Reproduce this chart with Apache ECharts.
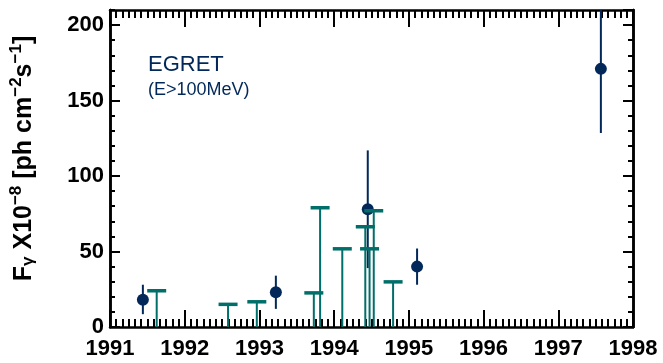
<!DOCTYPE html>
<html>
<head>
<meta charset="utf-8">
<script src="https://cdn.jsdelivr.net/npm/echarts@6/dist/echarts.min.js"></script>
<style>
  html, body { margin: 0; padding: 0; background: #fff; }
  #chart { width: 663px; height: 363px; }
</style>
</head>
<body>
<div id="chart"></div>
<script>
// EGRET (E>100 MeV) light curve: detections with error bars and 2-sigma upper limits

// Detections
var detYear = [1991.44, 1993.22, 1994.45, 1995.11, 1997.57];
var detFlux = [18, 23, 78, 40, 171];
var detLow  = [8.5, 12, 39, 28, 128.5];
var detHigh = [28, 34, 117, 52, 213.5];

// Upper limits
var ulYear = [1991.625, 1992.58, 1992.965, 1993.728, 1993.812, 1994.109, 1994.417, 1994.474, 1994.53, 1994.789];
var ulFlux = [24, 15, 16.7, 22.6, 79, 51.8, 66.4, 51.8, 77, 29.9];

// Axis ticks
var xTickYears = [1991, 1992, 1993, 1994, 1995, 1996, 1997, 1998];
var yMajorStep = 50;
var yMinorStep = 10;
var yMax = 210;

var NAVY = '#012858';
var TEAL = '#006e69';
var FONT = 'Liberation Sans';

var chart = echarts.init(document.getElementById('chart'));

var detData = detYear.map(function (x, i) { return [x, detFlux[i], detLow[i], detHigh[i]]; });
var ulData = ulYear.map(function (x, i) { return [x, ulFlux[i]]; });

function xAxisDef(pos, showLabel) {
  return {
    type: 'value', position: pos, min: xTickYears[0], max: xTickYears[xTickYears.length - 1], interval: 1,
    axisLine: { onZero: false, lineStyle: { color: '#000', width: 2.5 } },
    axisTick: { inside: true, length: 17, lineStyle: { color: '#000', width: 2 } },
    minorTick: { show: true, splitNumber: 12, length: 8, lineStyle: { color: '#000', width: 2 } },
    splitLine: { show: false },
    axisLabel: {
      show: showLabel, margin: 11, color: '#000',
      fontFamily: FONT, fontWeight: 'bold', fontSize: 22,
      formatter: function (v) { return String(Math.round(v)); }
    }
  };
}

function yAxisDef(pos, step, len, showLabel, withName) {
  var ax = {
    type: 'value', position: pos, min: 0, max: yMax, interval: step,
    axisLine: { show: true, onZero: false, lineStyle: { color: '#000', width: 2.5 } },
    axisTick: { show: true, inside: true, length: len, lineStyle: { color: '#000', width: 2 } },
    splitLine: { show: false },
    axisLabel: {
      show: showLabel, margin: 6, color: '#000', showMaxLabel: false,
      fontFamily: FONT, fontWeight: 'bold', fontSize: 22,
      formatter: function (v) { return (v % yMajorStep === 0) ? String(v) : ''; }
    }
  };
  if (withName) {
    ax.name = '{t|F}{sub|γ}{t| X10}{sup|−8}{t| [ph cm}{sup|−2}{t|s}{sup|−1}{t|]}';
    ax.nameLocation = 'middle';
    ax.nameGap = 73;
    ax.nameRotate = 90;
    ax.nameTextStyle = {
      color: '#000', padding: [0, 0, 0, 20],
      rich: {
        t:   { fontFamily: FONT, fontWeight: 'bold', fontSize: 25, color: '#000', verticalAlign: 'bottom', lineHeight: 29 },
        sup: { fontFamily: FONT, fontWeight: 'bold', fontSize: 17, color: '#000', verticalAlign: 'top', lineHeight: 29, padding: [0, 0, 13, 0] },
        sub: { fontFamily: FONT, fontWeight: 'bold', fontSize: 17, color: '#000', verticalAlign: 'bottom', lineHeight: 29, padding: [9, 0, 0, 0] }
      }
    };
  }
  return ax;
}

var option = {
  animation: false,
  backgroundColor: '#fff',
  grid: { left: 101, right: 30, top: 10, bottom: 36, containLabel: false },
  xAxis: [ xAxisDef('bottom', true), xAxisDef('top', false) ],
  yAxis: [
    yAxisDef('left', yMajorStep, 10, true, true),
    yAxisDef('left', yMinorStep, 5, false, false),
    yAxisDef('right', yMajorStep, 10, false, false),
    yAxisDef('right', yMinorStep, 5, false, false)
  ],
  graphic: [
    { type: 'text', left: 148, top: 54, style: { text: 'EGRET', fill: NAVY, font: '22px "Liberation Sans"' } },
    { type: 'text', left: 148, top: 81, style: { text: '(E>100MeV)', fill: NAVY, font: '18px "Liberation Sans"' } }
  ],
  series: [
    {
      // error bars of the detections
      type: 'custom', xAxisIndex: 0, yAxisIndex: 0, clip: true,
      data: detData,
      renderItem: function (params, api) {
        var top = api.coord([api.value(0), api.value(3)]);
        var bot = api.coord([api.value(0), api.value(2)]);
        return {
          type: 'line',
          shape: { x1: top[0], y1: top[1], x2: bot[0], y2: bot[1] },
          style: { stroke: NAVY, lineWidth: 2 }
        };
      },
      z: 2
    },
    {
      type: 'scatter', xAxisIndex: 0, yAxisIndex: 0,
      data: detData.map(function (d) { return [d[0], d[1]]; }),
      symbol: 'circle', symbolSize: 12,
      itemStyle: { color: NAVY, opacity: 1 },
      z: 3
    },
    {
      // upper limits: bar at the limit with a line down to zero
      type: 'custom', xAxisIndex: 0, yAxisIndex: 0, clip: true,
      data: ulData,
      renderItem: function (params, api) {
        var p = api.coord([api.value(0), api.value(1)]);
        var b = api.coord([api.value(0), 0]);
        var half = 9.5;
        return {
          type: 'group',
          children: [
            { type: 'line', shape: { x1: p[0], y1: p[1], x2: b[0], y2: b[1] }, style: { stroke: TEAL, lineWidth: 2 } },
            { type: 'line', shape: { x1: p[0] - half, y1: p[1], x2: p[0] + half, y2: p[1] }, style: { stroke: TEAL, lineWidth: 3.5 } }
          ]
        };
      },
      z: 4
    }
  ]
};

chart.setOption(option);
</script>
</body>
</html>
